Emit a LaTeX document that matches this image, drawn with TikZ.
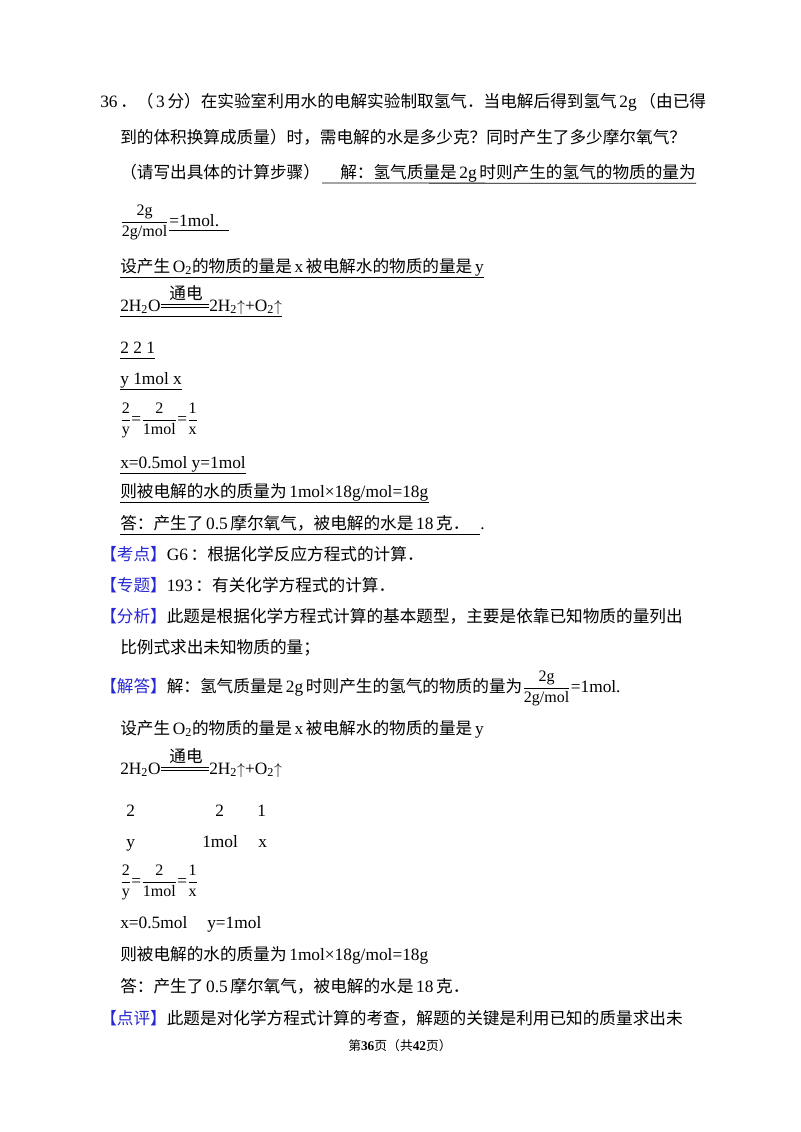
\documentclass[tikz,border=0pt]{standalone}
\usepackage{fontspec}
\setmainfont{Liberation Serif}
\newfontfamily\cjk[Scale=0.96]{Noto Sans CJK SC}
\newfontfamily\latf{Liberation Serif}
\XeTeXinterchartokenstate=1
\newXeTeXintercharclass\cjkclass
\count255="3000
\loop \XeTeXcharclass\count255=\cjkclass \advance\count255 by 1 \ifnum\count255<"A000 \repeat
\count255="FF00
\loop \XeTeXcharclass\count255=\cjkclass \advance\count255 by 1 \ifnum\count255<"FFF0 \repeat
\XeTeXinterchartoks 0 \cjkclass = {\kern2pt\cjk}
\XeTeXinterchartoks 4095 \cjkclass = {\cjk}
\XeTeXinterchartoks \cjkclass 0 = {\latf\kern2pt}
\XeTeXinterchartoks \cjkclass 4095 = {\latf}
\definecolor{tagblue}{RGB}{40,40,210}
\newcommand\tg[1]{\textcolor{tagblue}{【#1】}}
\newcommand\fr[2]{$\displaystyle\frac{\hbox{\fontsize{12}{14}\selectfont #1}}{\hbox{\fontsize{12}{14}\selectfont #2}}$}
\newcommand\up{$\uparrow$}
\begin{document}
\begin{tikzpicture}[x=0.75pt,y=-0.75pt,
  txt/.style={anchor=base west,inner sep=0pt,font=\fontsize{13}{16}\selectfont},
  ul/.style={line width=0.6pt}]
\useasboundingbox[fill=white] (0,0) rectangle (800,1132);
\node[txt] (l1) at (100,107) {36．（3分）在实验室利用水的电解实验制取氢气．当电解后得到氢气2g（由已得};
\node[txt] (l2) at (120,143) {到的体积换算成质量）时，需电解的水是多少克？同时产生了多少摩尔氧气？};
\node[txt] (l3a) at (120,178) {（请写出具体的计算步骤）};
\node[txt] (l3b) at (340,178) {解：氢气质量是2g时则产生的氢气的物质的量为};
\coordinate (u3) at (322,183);
\draw[ul] (u3) -- ([yshift=-4pt]l3b.base east);
\node[txt] (f1) at (120,226) {\fr{2g}{2g/mol}};
\node[txt] (f1b) at (f1.base east) {=1mol.};
\draw[ul] ([yshift=-3pt]f1b.base west) -- ++(60,0);
\node[txt] (l5) at (120,272) {设产生O\textsubscript{2}的物质的量是x被电解水的物质的量是y};
\draw[ul] ([yshift=-4pt]l5.base west) -- ([yshift=-4pt]l5.base east);
% equation 1
\node[txt] (e1a) at (120,311) {2H\textsubscript{2}O};
\node[txt] (e1b) at (209,311) {2H\textsubscript{2}\up+O\textsubscript{2}\up};
\draw ([yshift=3pt]e1a.base east) -- ([yshift=3pt]e1b.base west);
\draw ([yshift=5pt]e1a.base east) -- ([yshift=5pt]e1b.base west);
\node[txt,anchor=base] (t1) at (186,299) {通电};
\draw[ul] ([yshift=-4pt]e1a.base west) -- ([yshift=-4pt]e1b.base east);
\node[txt] (c1) at (120,353) {2\ 2\ 1};
\draw[ul] ([yshift=-4pt]c1.base west) -- ([yshift=-4pt]c1.base east);
\node[txt] (d1) at (120,384) {y\ 1mol\ x};
\draw[ul] ([yshift=-4pt]d1.base west) -- ([yshift=-4pt]d1.base east);
\node[txt] (g1) at (120,424) {\fr{2}{y}=\fr{2}{1mol}=\fr{1}{x}};
\node[txt] (h1) at (120,468) {x=0.5mol\ y=1mol};
\draw[ul] ([yshift=-4pt]h1.base west) -- ([yshift=-4pt]h1.base east);
\node[txt] (i1) at (120,497) {则被电解的水的质量为1mol×18g/mol=18g};
\draw[ul] ([yshift=-4pt]i1.base west) -- ([yshift=-4pt]i1.base east);
\node[txt] (j1) at (120,529) {答：产生了0.5摩尔氧气，被电解的水是18克．};
\node[txt] (j2) at (480,529) {.};
\draw[ul] ([yshift=-4pt]j1.base west) -- ([yshift=-4pt]j2.base west);
% analysis
\node[txt] (k1) at (100,560) {\tg{考点}G6：根据化学反应方程式的计算．};
\node[txt] (k2) at (100,591) {\tg{专题}193：有关化学方程式的计算．};
\node[txt] (k3) at (100,622) {\tg{分析}此题是根据化学方程式计算的基本题型，主要是依靠已知物质的量列出};
\node[txt] (k4) at (120,653) {比例式求出未知物质的量；};
\node[txt] (k5) at (100,692) {\tg{解答}解：氢气质量是2g时则产生的氢气的物质的量为\fr{2g}{2g/mol}=1mol.};
\node[txt] (k6) at (120,734) {设产生O\textsubscript{2}的物质的量是x被电解水的物质的量是y};
\node[txt] (e2a) at (120,774) {2H\textsubscript{2}O};
\node[txt] (e2b) at (209,774) {2H\textsubscript{2}\up+O\textsubscript{2}\up};
\draw ([yshift=3pt]e2a.base east) -- ([yshift=3pt]e2b.base west);
\draw ([yshift=5pt]e2a.base east) -- ([yshift=5pt]e2b.base west);
\node[txt,anchor=base] (t2) at (186,762) {通电};
\node[txt] (m1) at (126,816) {2};
\node[txt] (m2) at (215,816) {2};
\node[txt] (m3) at (257,816) {1};
\node[txt] (n1) at (126,847) {y};
\node[txt] (n2) at (202,847) {1mol};
\node[txt] (n3) at (258,847) {x};
\node[txt] (g2) at (120,886) {\fr{2}{y}=\fr{2}{1mol}=\fr{1}{x}};
\node[txt] (h2a) at (120,928) {x=0.5mol};
\node[txt] (h2b) at (207,928) {y=1mol};
\node[txt] (i2) at (120,960) {则被电解的水的质量为1mol×18g/mol=18g};
\node[txt] (j3) at (120,992) {答：产生了0.5摩尔氧气，被电解的水是18克．};
\node[txt] (k7) at (100,1024) {\tg{点评}此题是对化学方程式计算的考查，解题的关键是利用已知的质量求出未};
\node[anchor=base,inner sep=0pt,font=\fontsize{10}{12}\selectfont] (pg) at (400,1050) {第\textbf{36}页（共\textbf{42}页）};
\end{tikzpicture}
\end{document}
